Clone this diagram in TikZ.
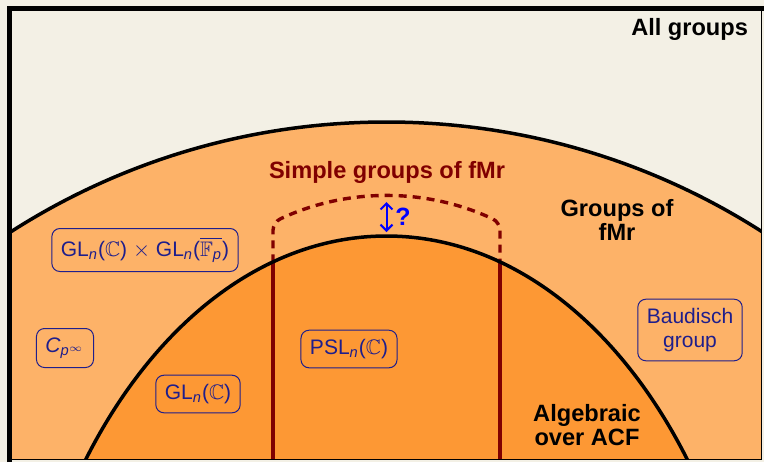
\documentclass[tikz,border=0pt]{standalone}
\usepackage{amsmath,amssymb}
\usepackage{fontspec}
\setmainfont{Liberation Sans}
\usetikzlibrary{arrows.meta}
\definecolor{cream}{RGB}{243,240,229}
\definecolor{fmrorange}{RGB}{253,178,104}
\definecolor{acforange}{RGB}{253,152,52}
\definecolor{darkmaroon}{RGB}{128,0,0}
\definecolor{boxblue}{RGB}{30,30,140}
\tikzset{
  example/.style={draw=boxblue, text=boxblue, rounded corners=4pt, inner sep=4.5pt,
    line width=0.5pt, align=center, font=\fontsize{10.5}{12}\selectfont},
  regionlabel/.style={align=center, font=\bfseries\fontsize{11.8}{12}\selectfont},
}
\newcommand{\GLn}{GL$_{\textit{n}}$}
\begin{document}
\begin{tikzpicture}[x=0.5pt, y=-0.5pt]
        \useasboundingbox (0,0) rectangle (764,462);
        \fill[cream] (0,0) rectangle (764,462);
        \begin{scope}
        \clip (9,8) rectangle (761.5,459.5);
        \fill[fmrorange] (386.5,819) circle [radius=348.5pt];
        \fill[acforange] (386.5,791) ellipse [x radius=187.5pt, y radius=277.5pt];
        \coordinate (sl) at (273,262.3);
        \coordinate (sr) at (500,262.3);
        \coordinate (slb) at (273,462);
        \coordinate (srb) at (500,462);
        \draw[darkmaroon, line width=1.7pt, dash pattern=on 4pt off 3pt, rounded corners=4pt]
          (sl) -- (273,222.3) arc[start angle=107.62, end angle=72.38, x radius=187.5pt, y radius=277.5pt] -- (sr);
        \foreach \a/\b in {sl/slb, sr/srb}
        \draw[darkmaroon, line width=2.1pt] (\a) -- (\b);
        \draw[line width=1.75pt] (386.5,819) circle [radius=348.5pt];
        \draw[line width=1.75pt] (386.5,791) ellipse [x radius=187.5pt, y radius=277.5pt];
        \end{scope}
        \draw[line width=0.75pt] (761.5,8) -- (761.5,459.5) -- (9,459.5);
        \draw[line width=2.5pt] (9,462) -- (9,8) -- (764,8);

        \node[regionlabel, anchor=east] at (755,29) (all) {All groups};
        \node[regionlabel] at (617,220) (fmr) {Groups of\\fMr};
        \node[regionlabel] at (587,425) (acf) {Algebraic\\over ACF};
        \node[regionlabel, text=darkmaroon] at (387,172) (simple) {Simple groups of fMr};

        \coordinate (qtop) at (386.5,202);
        \coordinate (qbot) at (386.5,232);
        \draw[blue, line width=1pt, {Straight Barb[length=3pt]}-{Straight Barb[length=3pt]}] (qtop) -- (qbot);
        \node[text=blue, font=\bfseries\fontsize{12.5}{14}\selectfont] at (403,217) (q) {?};

        \node[example] at (145,250) (prod) {\GLn($\mathbb{C}$) $\times$ \GLn($\overline{\mathbb{F}_{\textit{p}}}$)};
        \node[example] at (65,348) (cp) {\textit{C}$_{\textit{p}^{\infty}}$};
        \node[example] at (198,394) (gl) {\GLn($\mathbb{C}$)};
        \node[example] at (349,349) (psl) {PSL$_{\textit{n}}$($\mathbb{C}$)};
        \node[example] at (690,330) (baud) {Baudisch\\group};
\end{tikzpicture}
\end{document}
